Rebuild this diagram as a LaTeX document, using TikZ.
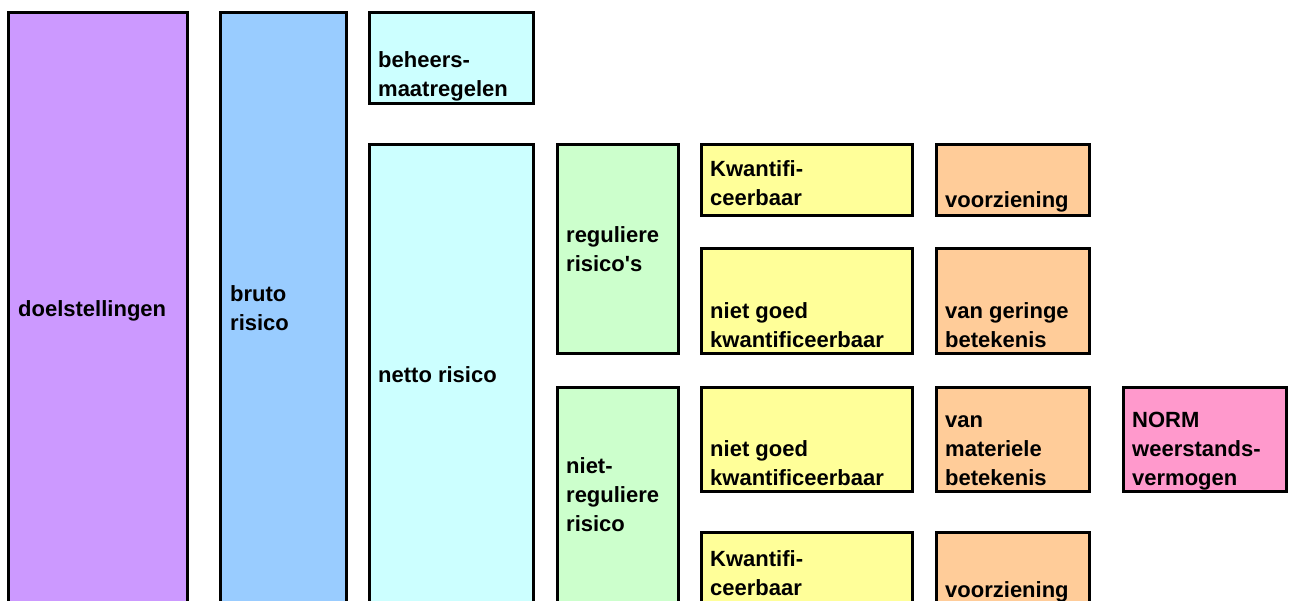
\documentclass[tikz,border=0pt]{standalone}
\usepackage{fontspec}
\setmainfont{Liberation Sans}
\definecolor{lila}{HTML}{CC99FF}
\definecolor{blauw}{HTML}{99CCFF}
\definecolor{cyaan}{HTML}{CCFFFF}
\definecolor{groen}{HTML}{CCFFCC}
\definecolor{geel}{HTML}{FFFF99}
\definecolor{oranje}{HTML}{FFCC99}
\definecolor{roze}{HTML}{FF99CC}
\tikzset{
  box/.style={draw, line width=3pt, rectangle, anchor=north west,
              inner sep=0pt, outer sep=0pt},
  lbl/.style={anchor=base west, align=left, inner sep=0pt,
              font=\bfseries\fontsize{22}{29}\selectfont}
}
\begin{document}
\begin{tikzpicture}[x=1pt,y=-1pt]
  \useasboundingbox (0,0) rectangle (1289,600);
  \clip (0,0) rectangle (1289,600);
  \foreach \name/\x/\y/\w/\h/\col in {doel/8.5/12.5/179/700/lila,
      bruto/220.5/12.5/126/700/blauw,
      beheers/369.5/12.5/164/91/cyaan,
      netto/369.5/144.5/164/700/cyaan,
      regul/557.5/144.5/121/209/groen,
      nietregul/557.5/387.5/121/700/groen,
      kwantA/701.5/144.5/211/71/geel,
      voorzA/936.5/144.5/153/71/oranje,
      nietkwA/701.5/248.5/211/105/geel,
      gering/936.5/248.5/153/105/oranje,
      nietkwB/701.5/387.5/211/104/geel,
      materieel/936.5/387.5/153/104/oranje,
      norm/1123.5/387.5/163/104/roze,
      kwantB/701.5/532.5/211/200/geel,
      voorzB/936.5/532.5/153/200/oranje}
    \node[box, fill=\col, minimum width=\w pt, minimum height=\h pt]
      (\name) at (\x,\y) {};

  % y = baseline of the last line
  \foreach \name/\x/\y/\txt in {doeltxt/18/316/{doelstellingen},
      brutotxt/230/330/{bruto\\risico},
      beheerstxt/378/96/{beheers-\\maatregelen},
      nettotxt/378/382/{netto risico},
      regultxt/566/271/{reguliere\\risico\textquotesingle s},
      nietregultxt/566/531/{niet-\\reguliere\\risico},
      kwantAtxt/710/205/{Kwantifi-\\ceerbaar},
      voorzAtxt/945/207/{voorziening},
      nietkwAtxt/710/347/{niet goed\\kwantificeerbaar},
      geringtxt/945/347/{van geringe\\betekenis},
      nietkwBtxt/710/485/{niet goed\\kwantificeerbaar},
      materieeltxt/945/485/{van\\materiele\\betekenis},
      normtxt/1132/485/{NORM\\weerstands-\\vermogen},
      kwantBtxt/710/595/{Kwantifi-\\ceerbaar},
      voorzBtxt/945/597/{voorziening}}
    \node[lbl] (\name) at (\x,\y) {\txt};
\end{tikzpicture}
\end{document}
